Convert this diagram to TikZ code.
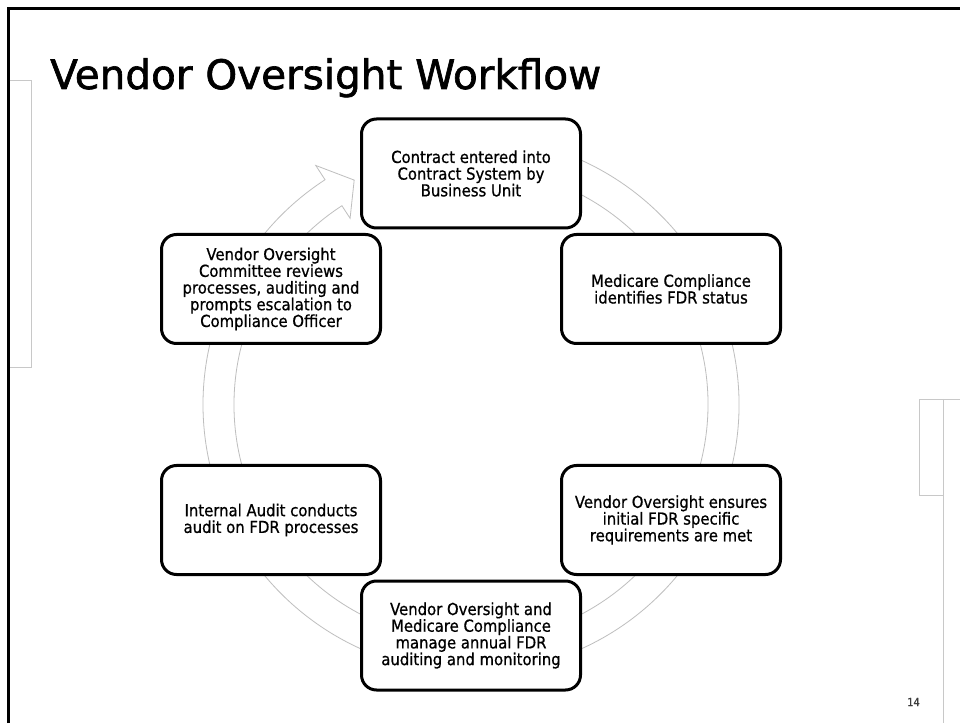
\documentclass[tikz,border=0pt]{standalone}
\usepackage{fontspec}
\setmainfont{DejaVu Sans}[FakeStretch=0.9, FakeBold=0.8]
\newfontfamily\titlefont{DejaVu Sans}[FakeBold=1.6]
\usetikzlibrary{calc}
\definecolor{ringgray}{RGB}{190,190,190}
\definecolor{decogray}{RGB}{200,200,200}
\definecolor{numgray}{RGB}{60,60,60}
\tikzset{
  stepbox/.style={draw=black, line width=3pt, rounded corners=15pt, fill=white,
    minimum width=219pt, minimum height=109pt, align=center, inner sep=2pt,
    font=\fontsize{16.5pt}{16.7pt}\selectfont},
  ringline/.style={draw=ringgray, line width=0.8pt, fill=white, line join=miter},
  decoline/.style={draw=decogray, line width=0.8pt},
  frameline/.style={draw=black, line width=2.5pt, line join=miter}
}
\begin{document}
\begin{tikzpicture}[x=1pt,y=1pt]
\useasboundingbox (0,0) rectangle (960,723);
\fill[white] (0,0) rectangle (960,723);
% slide frame
\draw[frameline] (8.5,0) -- (8.5,714.5) -- (960,714.5);
% decorative gray lines
\draw[decoline] (9.8,643) -- (31,643) -- (31,356) -- (9.8,356);
\draw[decoline] (960,324) -- (919,324) -- (919,228) -- (943,228);
\draw[decoline] (943,324) -- (943,0);
% title
\node[anchor=base west, inner sep=0pt, font=\titlefont\fontsize{40.5pt}{44pt}\selectfont] (title) at (50,634) {Vendor Oversight Workflow};
% ring arrow
\coordinate (C) at (471,318.5);
\path[ringline] ($(C)+(100:268)$) arc[start angle=100, end angle=-237, radius=268]
  -- ($(C)+(-237:285)$) -- ($(C)+(-242.5:253)$) -- ($(C)+(-237:222)$)
  -- ($(C)+(-237:237)$) arc[start angle=-237, end angle=100, radius=237] -- cycle;
% boxes
\node[stepbox] (b1) at (471,549.5) {Contract entered into\\Contract System by\\Business Unit};
\node[stepbox] (b2) at (671,434) {Medicare Compliance\\identifies FDR status};
\node[stepbox] (b3) at (671,203) {Vendor Oversight ensures\\initial FDR specific\\requirements are met};
\node[stepbox] (b4) at (471,87.5) {Vendor Oversight and\\Medicare Compliance\\manage annual FDR\\auditing and monitoring};
\node[stepbox] (b5) at (271,203) {Internal Audit conducts\\audit on FDR processes};
\node[stepbox] (b6) at (271,434) {Vendor Oversight\\Committee reviews\\processes, auditing and\\prompts escalation to\\Compliance Officer};
% page number
\node[font=\fontsize{11pt}{12pt}\selectfont, text=numgray, inner sep=0pt] (pnum) at (913.5,21) {14};
\end{tikzpicture}
\end{document}
